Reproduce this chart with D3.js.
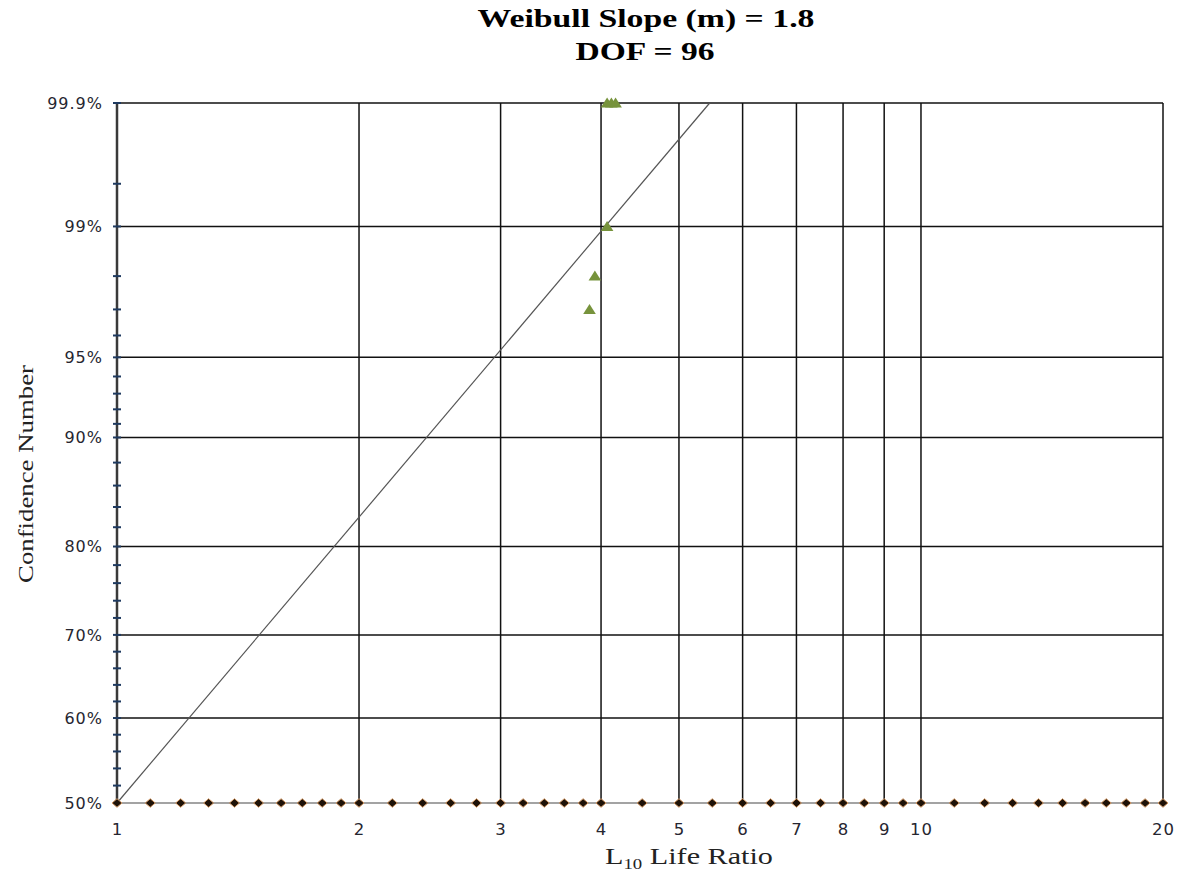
<!DOCTYPE html>
<html><head><meta charset="utf-8">
<script src="https://cdn.jsdelivr.net/npm/d3@7"></script>
<style>html,body{margin:0;padding:0;background:#fff}</style>
</head><body>
<svg id="c" width="1188" height="875"></svg>
<script>
// ---- data ----
const titleLines = ["Weibull Slope (m) = 1.8", "DOF = 96"];
const xTickValues = [1, 2, 3, 4, 5, 6, 7, 8, 9, 10, 20];
const yTickPcts = [0.5, 0.6, 0.7, 0.8, 0.9, 0.95, 0.99, 0.999];
const yTickLabels = ["50%", "60%", "70%", "80%", "90%", "95%", "99%", "99.9%"];
const yMinorPcts = [0.5, 0.52, 0.54, 0.56, 0.58, 0.6, 0.62, 0.64, 0.66, 0.68, 0.7, 0.72, 0.74, 0.76, 0.78, 0.8,
  0.82, 0.84, 0.86, 0.88, 0.9, 0.91, 0.92, 0.93, 0.94, 0.95, 0.96, 0.97, 0.98, 0.99, 0.995, 0.999];
const diamondX = [1, 1.1, 1.2, 1.3, 1.4, 1.5, 1.6, 1.7, 1.8, 1.9, 2, 2.2, 2.4, 2.6, 2.8, 3, 3.2, 3.4, 3.6, 3.8, 4,
  4.5, 5, 5.5, 6, 6.5, 7, 7.5, 8, 8.5, 9, 9.5, 10, 11, 12, 13, 14, 15, 16, 17, 18, 19, 20];
const diamondP = diamondX.map(() => 0.5);
const triX = [3.87, 3.93, 4.07, 4.07, 4.12, 4.17];
const triP = [0.97, 0.98, 0.99, 0.999, 0.999, 0.999];
const fitX = [1, 5.46];
const fitP = [0.5, 0.999];

// ---- layout ----
const L = 117, R = 1163, T = 103, B = 803;
const svg = d3.select("#c");
const wt = p => Math.log(-Math.log(1 - p));
const x = d3.scaleLog().domain([1, 20]).range([L, R]);
const yt = d3.scaleLinear().domain([wt(0.5), wt(0.999)]).range([B, T]);
const y = p => yt(wt(p));

// gridlines
svg.append("g").selectAll("line").data(yTickPcts.filter(p => p > 0.5)).join("line")
  .attr("x1", L).attr("x2", R).attr("y1", y).attr("y2", y)
  .attr("stroke", "#111").attr("stroke-width", 1.5);
svg.append("g").selectAll("line").data(xTickValues.filter(v => v > 1)).join("line")
  .attr("x1", x).attr("x2", x).attr("y1", T).attr("y2", B)
  .attr("stroke", "#111").attr("stroke-width", 1.5);

// left axis
const ya = svg.append("g").attr("transform", `translate(${L},0)`)
  .call(d3.axisLeft(yt).tickValues(yTickPcts.map(wt)).tickSize(0).tickPadding(14)
    .tickFormat((d, i) => yTickLabels[i]));
ya.select(".domain").remove();
ya.selectAll("text").attr("font-family", "DejaVu Sans, Verdana, sans-serif").attr("font-size", 16)
  .attr("letter-spacing", 1).attr("fill", "#262630");
svg.append("line").attr("x1", L).attr("x2", L).attr("y1", T).attr("y2", B).attr("stroke", "#3a3a3a").attr("stroke-width", 2.5);
svg.append("g").selectAll("line").data(yMinorPcts).join("line")
  .attr("x1", L - 4).attr("x2", L + 4).attr("y1", y).attr("y2", y)
  .attr("stroke", "#1f3a60").attr("stroke-width", 2);

// bottom axis labels
const xa = svg.append("g").attr("transform", `translate(0,${B})`)
  .call(d3.axisBottom(x).tickValues(xTickValues).tickSize(0).tickPadding(20).tickFormat(d3.format("d")));
xa.select(".domain").remove();
xa.selectAll("text").attr("font-family", "DejaVu Sans, Verdana, sans-serif").attr("font-size", 16.5)
  .attr("letter-spacing", 1).attr("fill", "#262630");

// fitted line
svg.append("path").datum(fitX.map((v, i) => [v, fitP[i]]))
  .attr("d", d3.line().x(d => x(d[0])).y(d => y(d[1])))
  .attr("fill", "none").attr("stroke", "#555").attr("stroke-width", 1.2);

// diamond series
svg.append("path").datum(diamondX.map((v, i) => [v, diamondP[i]]))
  .attr("d", d3.line().x(d => x(d[0])).y(d => y(d[1])))
  .attr("fill", "none").attr("stroke", "#a3a3a3").attr("stroke-width", 2);
svg.append("g").selectAll("path").data(diamondX.map((v, i) => [v, diamondP[i]])).join("path")
  .attr("d", "M0,-4.3L5,0L0,4.3L-5,0Z")
  .attr("transform", d => `translate(${x(d[0])},${y(d[1])})`)
  .attr("fill", "#1e1208").attr("stroke", "#d49a66").attr("stroke-width", 1);

// triangles
svg.append("g").selectAll("path").data(triX.map((v, i) => [v, triP[i]])).join("path")
  .attr("d", "M0,-5.5L6.3,4.5L-6.3,4.5Z")
  .attr("transform", d => `translate(${x(d[0])},${y(d[1])})`)
  .attr("fill", "#77933c");

// serif texts, stretched horizontally to match
function serifText(parent, txt, size, targetW) {
  const t = parent.append("text").attr("font-family", "Liberation Serif, Times New Roman, serif")
    .attr("font-size", size).attr("text-anchor", "middle").attr("fill", "#000");
  txt(t);
  const w = t.node().getComputedTextLength();
  return targetW / w;
}
// titles
[[titleLines[0], 646, 27, 337], [titleLines[1], 645, 60, 139]].forEach(([s, cx, by, w]) => {
  const g = svg.append("g");
  const k = serifText(g, t => t.text(s).attr("font-weight", "bold"), 26, w);
  g.attr("transform", `translate(${cx},${by}) scale(${k},1)`);
});
// x title
{
  const g = svg.append("g");
  const k = serifText(g, t => {
    t.append("tspan").text("L");
    t.append("tspan").text("10").attr("font-size", 14).attr("dy", 5);
    t.append("tspan").text(" Life Ratio").attr("dy", -5);
  }, 22.5, 168);
  g.attr("transform", `translate(689,864) scale(${k},1)`);
  g.select("text").attr("fill", "#222");
}
// y title
{
  const g = svg.append("g");
  const k = serifText(g, t => t.text("Confidence Number"), 22, 218);
  g.attr("transform", `translate(33,474) rotate(-90) scale(${k},1)`);
  g.select("text").attr("fill", "#222");
}
</script>
</body></html>
